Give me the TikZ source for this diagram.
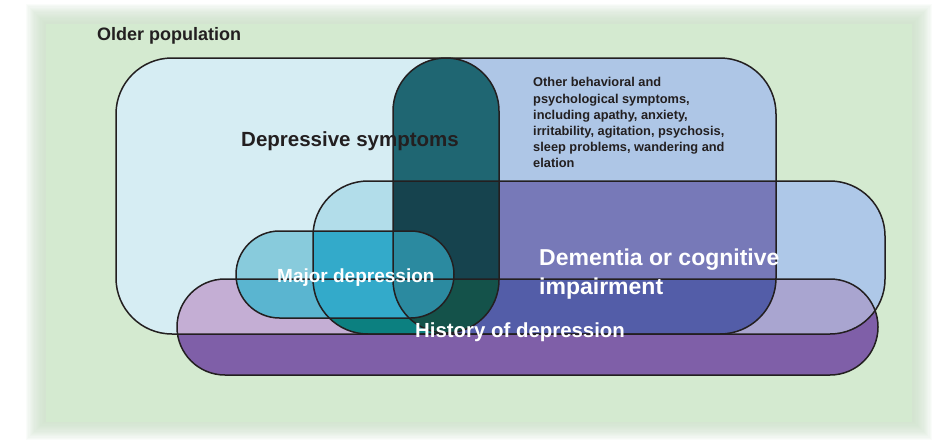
\documentclass[tikz,border=0pt]{standalone}
\usepackage{fontspec}
\setmainfont{Liberation Sans}
\pgfdeclarelayer{filllayer}
\pgfdeclarelayer{nodelayer}
\pgfsetlayers{filllayer,main,nodelayer}
\definecolor{bggreen}{HTML}{D4EAD0}
\definecolor{ink}{HTML}{231F20}
\definecolor{depcyan}{HTML}{D6EDF3}
\definecolor{otherblue}{HTML}{AEC6E6}
\definecolor{colteal}{HTML}{1F6672}
\definecolor{demblue}{HTML}{AEC8E8}
\definecolor{depdem}{HTML}{B2DDEA}
\definecolor{otherdem}{HTML}{7779B8}
\definecolor{coldem}{HTML}{16434E}
\definecolor{hispurple}{HTML}{7F5FA8}
\definecolor{hisdep}{HTML}{C4AED4}
\definecolor{hisdem}{HTML}{A9A5D0}
\definecolor{hisdepdem}{HTML}{0C8080}
\definecolor{hisotherdem}{HTML}{535DA8}
\definecolor{hiscoldem}{HTML}{14524A}
\definecolor{majcyan}{HTML}{88CBDC}
\definecolor{majhis}{HTML}{5AB5D0}
\definecolor{majdem}{HTML}{33AACA}
\definecolor{majcol}{HTML}{2B8AA0}
\tikzstyle{outline}=[draw=ink,line width=1.5pt]
\tikzstyle{dark label}=[inner sep=0pt,text=ink]
\tikzstyle{light label}=[inner sep=0pt,text=white]
% the five sets, in pixel units
\newcommand{\bigbox}{[rounded corners=56] (116,58) rectangle (776,334)}
\newcommand{\colpill}{[rounded corners=53] (393,58) rectangle (499,333)}
\newcommand{\dembox}{[rounded corners=55] (313,181) rectangle (885,334)}
\newcommand{\majpill}{[rounded corners=43.5] (236,231) rectangle (454,318)}
\newcommand{\hispill}{[rounded corners=48] (177,279) rectangle (878,375)}
\newcommand{\leftpart}{(100,40) rectangle (446,400)}
\newcommand{\rightpart}{(446,40) rectangle (900,400)}
\newcommand{\fsz}[2]{\bfseries\fontsize{#1}{#2}\selectfont}
\begin{document}
\begin{tikzpicture}[x=1pt,y=-1pt]
	\useasboundingbox (0,0) rectangle (936,442);
	\begin{pgfonlayer}{filllayer}
		\fill [white] (0,0) rectangle (936,442);
		% soft edge of the background
		\foreach \i in {0,...,15}
			\fill [bggreen!92!gray, opacity=0.09] (26+\i*1.2,4+\i*1.2) rectangle (932-\i*1.2,440-\i*1.2);
		\fill [bggreen] (46,24) rectangle (912,422);
		% behavioral and psychological symptoms
		\fill [otherblue] \bigbox;
		\begin{scope}
			\clip \bigbox;
			\fill [depcyan] \leftpart;
		\end{scope}
		\fill [colteal] \colpill;
		% dementia
		\fill [demblue] \dembox;
		\begin{scope}
			\clip \dembox;
			\begin{scope}
				\clip \bigbox;
				\fill [depdem] \leftpart;
				\fill [otherdem] \rightpart;
			\end{scope}
			\fill [coldem] \colpill;
		\end{scope}
		% history of depression
		\fill [hispurple] \hispill;
		\begin{scope}
			\clip \hispill;
			\begin{scope}
				\clip \bigbox;
				\fill [hisdep] \leftpart;
			\end{scope}
			\begin{scope}
				\clip \dembox;
				\fill [hisdem] \dembox;
				\begin{scope}
					\clip \bigbox;
					\fill [hisdepdem] \leftpart;
					\fill [hisotherdem] \rightpart;
				\end{scope}
				\fill [hiscoldem] \colpill;
			\end{scope}
		\end{scope}
		% major depression
		\fill [majcyan] \majpill;
		\begin{scope}
			\clip \majpill;
			\begin{scope}
				\clip \hispill;
				\fill [majhis] \majpill;
			\end{scope}
			\begin{scope}
				\clip \dembox;
				\fill [majdem] \majpill;
			\end{scope}
			\fill [majcol] \colpill;
		\end{scope}
	\end{pgfonlayer}
	\draw [style=outline] \bigbox;
	\draw [style=outline] \colpill;
	\draw [style=outline] \dembox;
	\draw [style=outline] \majpill;
	\draw [style=outline] \hispill;
	\begin{pgfonlayer}{nodelayer}
		\node [style={dark label}, font=\fsz{18}{20}, anchor=base west] (0) at (97,40) {Older population};
		\node [style={dark label}, font=\fsz{20.5}{24}, anchor=base west] (1) at (241,146) {Depressive symptoms};
		\node [style={dark label}, font=\fsz{12.8}{16.2}, anchor=north west, align=left] (2) at (533,77.5) {Other behavioral and\\psychological symptoms,\\including apathy, anxiety,\\irritability, agitation, psychosis,\\sleep problems, wandering and\\elation};
		\node [style={light label}, font=\fsz{19}{22}, anchor=base west] (3) at (277,282) {Major depression};
		\node [style={light label}, font=\fsz{23}{29}, anchor=north west, align=left] (4) at (539,248.5) {Dementia or cognitive\\impairment};
		\node [style={light label}, font=\fsz{20.4}{24}, anchor=base west] (5) at (415,337) {History of depression};
	\end{pgfonlayer}
\end{tikzpicture}
\end{document}
